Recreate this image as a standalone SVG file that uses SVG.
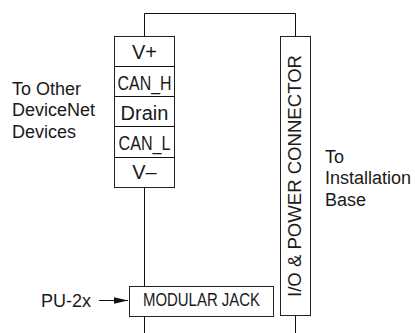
<svg xmlns="http://www.w3.org/2000/svg" width="415" height="333" viewBox="0 0 415 333">
<style>
text{font-family:"Liberation Sans",Arial,sans-serif;fill:#1a1a1a}
.b{fill:#fff;stroke:#222;stroke-width:1}
.l{fill:none;stroke:#111;stroke-width:1}
.m{font-size:20px;text-anchor:middle}
.s{font-size:18px}
</style>
<defs><marker id="a" markerWidth="15" markerHeight="8" refX="14" refY="4" orient="auto" markerUnits="userSpaceOnUse"><path d="M0 0.700 L14 4 L0 7.300 Z" fill="#111"/></marker></defs>
<g id="connectors">
<path class="l" d="M144.500 36V13.500H295.500V36"/>
<path class="l" d="M144.500 187V286"/>
<path class="l" d="M144.500 316V333"/>
<path class="l" d="M295.500 316V333"/>
<path class="l" d="M99 300.500H128" marker-end="url(#a)"/>
</g>
<g id="terminal-block">
<rect class="b" x="114.500" y="36.500" width="60" height="151"/>
<path class="l" d="M114.500 66.500H174.500M114.500 96.500H174.500M114.500 126.500H174.500M114.500 157.500H174.500"/>
<text class="m" x="144.500" y="58.500">V+</text>
<text class="m" x="144.500" y="90" textLength="54" lengthAdjust="spacingAndGlyphs">CAN_H</text>
<text class="m" x="144.500" y="120">Drain</text>
<text class="m" x="144.500" y="150" textLength="52" lengthAdjust="spacingAndGlyphs">CAN_L</text>
<text class="m" x="144.500" y="179">V–</text>
</g>
<g id="io-power-connector">
<rect class="b" x="280.500" y="36.500" width="30" height="279"/>
<text transform="translate(300.500 297) rotate(-90)" font-size="18.500" textLength="242" lengthAdjust="spacingAndGlyphs">I/O &amp; POWER CONNECTOR</text>
</g>
<g id="modular-jack">
<rect class="b" x="129.500" y="286.500" width="144" height="30"/>
<text x="201.500" y="306" font-size="18" text-anchor="middle" textLength="117" lengthAdjust="spacingAndGlyphs">MODULAR JACK</text>
</g>
<g id="labels">
<text class="s" x="12" y="94.500">To Other</text>
<text class="s" x="12" y="116">DeviceNet</text>
<text class="s" x="12" y="137.500">Devices</text>
<text class="s" x="325" y="162.500">To</text>
<text class="s" x="325" y="184">Installation</text>
<text class="s" x="325" y="205.500">Base</text>
<text class="s" x="41" y="306.500">PU-2x</text>
</g>
</svg>
